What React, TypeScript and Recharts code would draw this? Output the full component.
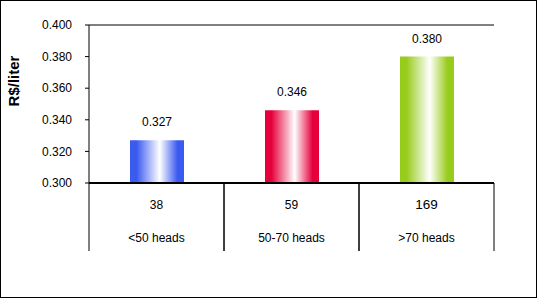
import React from 'react';
import { BarChart, Bar, XAxis, YAxis, CartesianGrid, LabelList, Cell } from 'recharts';

const categories = ['<50 heads', '50-70 heads', '>70 heads'];
const counts = ['38', '59', '169'];
const prices = [0.327, 0.346, 0.38];
const yTicks = [0.3, 0.32, 0.34, 0.36, 0.38, 0.4];
const barColors = ['#3a5af0', '#e6003c', '#98cc1c'];

const data = categories.map((c, i) => ({ name: c, count: counts[i], value: prices[i] }));

const W = 537;
const H = 298;
const PLOT_LEFT = 89;
const PLOT_RIGHT = 494;
const BAND = (PLOT_RIGHT - PLOT_LEFT) / categories.length;

const font = 'Arial, "Liberation Sans", sans-serif';

const XTick = (props: any) => {
  const { x, y, payload, index } = props;
  const i = index ?? categories.indexOf(payload.value);
  const big = counts[i] === '169';
  return (
    <g>
      <line x1={x - BAND / 2} x2={x - BAND / 2} y1={y} y2={y + 68} stroke="#000" strokeWidth={1} />
      <line x1={x + BAND / 2} x2={x + BAND / 2} y1={y} y2={y + 68} stroke="#000" strokeWidth={1} />
      <text x={x} y={y + 25.5} textAnchor="middle" fontFamily={font} fontSize={big ? 13.5 : 12} fill="#000">
        {counts[i]}
      </text>
      <text x={x} y={y + 59} textAnchor="middle" fontFamily={font} fontSize={12} fill="#000">
        {payload.value}
      </text>
    </g>
  );
};

const YLabel = (props: any) => {
  const vb = props.viewBox || { x: 0, y: 25 };
  const cx = vb.x + 13.5;
  const cy = vb.y + 56;
  return (
    <text x={cx} y={cy} transform={`rotate(-90, ${cx}, ${cy})`} textAnchor="middle" dominantBaseline="central"
      fontFamily={font} fontSize={15} fontWeight="bold" fill="#000">
      R$/liter
    </text>
  );
};

export default function App() {
  return (
    <div style={{ position: 'fixed', left: 0, top: 0, width: W, height: H, boxSizing: 'border-box', border: '1px solid #000', background: '#fff' }}>
      <div style={{ position: 'absolute', left: -1, top: -1 }}>
        <BarChart width={W} height={H} data={data} margin={{ top: 25, right: W - PLOT_RIGHT, bottom: 45, left: 0 }} barCategoryGap="30%">
          <defs>
            {barColors.map((c, i) => (
              <linearGradient key={i} id={`g${i}`} x1="0" y1="0" x2="1" y2="0">
                <stop offset="0" stopColor={c} />
                <stop offset="0.12" stopColor={c} />
                <stop offset="0.55" stopColor="#ffffff" />
                <stop offset="0.88" stopColor={c} />
                <stop offset="1" stopColor={c} />
              </linearGradient>
            ))}
          </defs>
          <CartesianGrid vertical={false} stroke="#000" strokeWidth={1} />
          <XAxis dataKey="name" axisLine={{ stroke: '#000', strokeWidth: 2 }} tickLine={false} tickSize={0} tickMargin={0} height={70} tick={<XTick />} interval={0} />
          <YAxis yAxisId="left" width={PLOT_LEFT} domain={[0.3, 0.4]} ticks={yTicks} allowDataOverflow
            tickFormatter={(v: number) => v.toFixed(3)} axisLine={{ stroke: '#000' }} tickLine={{ stroke: '#000' }} tickSize={4} tickMargin={13}
            tick={{ fontFamily: font, fontSize: 12, fill: '#000' }} label={<YLabel />} />
          <YAxis yAxisId="right" orientation="right" width={0} domain={[0.3, 0.4]} tick={false} tickLine={false} axisLine={{ stroke: '#000' }} />
          <Bar yAxisId="left" dataKey="value" isAnimationActive={false} barSize={54}>
            {data.map((d, i) => (
              <Cell key={i} fill={`url(#g${i})`} />
            ))}
            <LabelList dataKey="value" position="top" offset={14} formatter={(v: number) => v.toFixed(3)}
              style={{ fontFamily: font, fontSize: 12, fill: '#000' }} />
          </Bar>
        </BarChart>
      </div>
    </div>
  );
}
